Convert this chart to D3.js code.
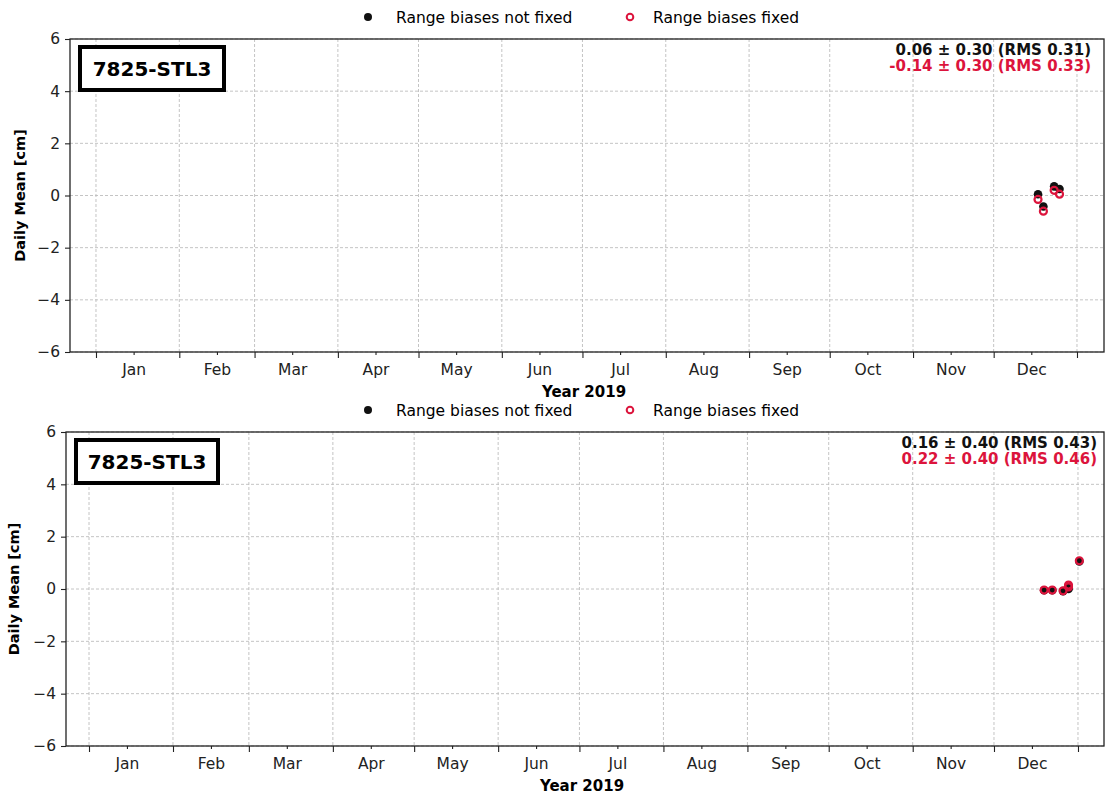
<!DOCTYPE html>
<html><head><meta charset="utf-8">
<script src="https://cdn.jsdelivr.net/npm/d3@7"></script>
<style>body{margin:0;background:#fff}svg{display:block;font-family:"DejaVu Sans",sans-serif}</style>
</head><body>
<svg id="chart" width="1105" height="796"></svg>
<script>
// ---------- data ----------
const stationName = "7825-STL3";
const seriesNames = ["Range biases not fixed", "Range biases fixed"];
const monthLabels = ["Jan","Feb","Mar","Apr","May","Jun","Jul","Aug","Sep","Oct","Nov","Dec"];
const yTicks = [-6,-4,-2,0,2,4,6];
const xLabel = "Year 2019";
const yLabel = "Daily Mean [cm]";

// panel 1
const p1Dates = ["2019-12-17","2019-12-19","2019-12-23","2019-12-25"];
const p1NotFixed = [0.05, -0.42, 0.35, 0.25];
const p1Fixed = [-0.15, -0.60, 0.20, 0.05];
const p1Stats = ["0.06 \u00b1 0.30 (RMS 0.31)", "-0.14 \u00b1 0.30 (RMS 0.33)"];

// panel 2
const p2Dates = ["2019-12-19","2019-12-22","2019-12-26","2019-12-28","2019-12-28","2020-01-01"];
const p2NotFixed = [-0.05, -0.05, -0.08, 0.05, 0.00, 1.05];
const p2Fixed = [-0.04, -0.04, -0.07, 0.15, 0.08, 1.08];
const p2Stats = ["0.16 \u00b1 0.40 (RMS 0.43)", "0.22 \u00b1 0.40 (RMS 0.46)"];

// ---------- drawing ----------
const svg = d3.select("#chart");
const RED = "#DC143C";
const FS = 15.5;

function drawPanel(cfg) {
  const {left, right, top, bottom, padBefore, padAfter, dates, notFixed, fixed, stats, legendY, statsX, box} = cfg;
  const y0 = Date.UTC(2019,0,1), y1 = Date.UTC(2020,0,1);
  const day = 864e5;
  const x = d3.scaleUtc().domain([new Date(y0 - padBefore*day), new Date(y1 + padAfter*day)]).range([left, right]);
  const y = d3.scaleLinear().domain([-6, 6]).range([bottom, top]);
  const g = svg.append("g");

  // grid
  const majors = d3.utcMonth.range(new Date(y0), new Date(y1 + day));
  const minors = majors.slice(0, 12).map(d => d3.utcDay.offset(d, 14));
  g.append("g").selectAll("line").data(majors).join("line")
    .attr("x1", d => x(d)).attr("x2", d => x(d)).attr("y1", top).attr("y2", bottom)
    .attr("stroke", "#bdbdbd").attr("stroke-width", 0.9).attr("stroke-dasharray", "3,2");
  g.append("g").selectAll("line").data(yTicks).join("line")
    .attr("x1", left).attr("x2", right).attr("y1", d => y(d)).attr("y2", d => y(d))
    .attr("stroke", "#bdbdbd").attr("stroke-width", 0.9).attr("stroke-dasharray", "3,2");

  // axes
  const xMajor = d3.axisBottom(x).tickValues(majors).tickSize(6).tickFormat("");
  const xMinor = d3.axisBottom(x).tickValues(minors).tickSize(3).tickPadding(9)
    .tickFormat((d, i) => monthLabels[i]);
  const yAx = d3.axisLeft(y).tickValues(yTicks).tickSize(5).tickPadding(5)
    .tickFormat(d => d < 0 ? "\u2212" + Math.abs(d) : d);
  const gxM = g.append("g").attr("transform", `translate(0,${bottom})`).call(xMajor);
  const gxm = g.append("g").attr("transform", `translate(0,${bottom})`).call(xMinor);
  const gy = g.append("g").attr("transform", `translate(${left},0)`).call(yAx);
  [gxM, gxm, gy].forEach(a => {
    a.select(".domain").remove();
    a.selectAll("line").attr("stroke", "#222").attr("stroke-width", 1.1);
    a.selectAll("text").attr("fill", "#222").style("font-size", FS + "px").style("font-family", "DejaVu Sans");
  });
  gxm.selectAll("text").attr("dy", "0.71em");

  // frame
  g.append("rect").attr("x", left).attr("y", top).attr("width", right - left).attr("height", bottom - top)
    .attr("fill", "none").attr("stroke", "#222").attr("stroke-width", 1.3);

  // points
  const parse = d3.utcParse("%Y-%m-%d");
  const pts = dates.map((d, i) => ({t: d3.utcHour.offset(parse(d), 12), a: notFixed[i], b: fixed[i]}));
  g.append("g").selectAll("circle").data(pts).join("circle")
    .attr("cx", d => x(d.t)).attr("cy", d => y(d.a)).attr("r", 4.3).attr("fill", "#111");
  g.append("g").selectAll("circle").data(pts).join("circle")
    .attr("cx", d => x(d.t)).attr("cy", d => y(d.b)).attr("r", 3.5)
    .attr("fill", "none").attr("stroke", RED).attr("stroke-width", 2.2);

  // station box
  g.append("rect").attr("x", box[0]).attr("y", box[1]).attr("width", box[2]).attr("height", box[3])
    .attr("fill", "#fff").attr("stroke", "#000").attr("stroke-width", 4);
  g.append("text").attr("x", box[0] + box[2] / 2).attr("y", box[1] + box[3] / 2).attr("dy", "0.36em")
    .attr("text-anchor", "middle").style("font-size", "20px").style("font-weight", "bold").text(stationName);

  // stats
  g.append("text").attr("x", statsX).attr("y", top + 15.5).attr("text-anchor", "end")
    .style("font-size", "15px").style("font-weight", "bold").attr("fill", "#111").text(stats[0]);
  g.append("text").attr("x", statsX).attr("y", top + 31.5).attr("text-anchor", "end")
    .style("font-size", "15px").style("font-weight", "bold").attr("fill", RED).text(stats[1]);

  // labels
  g.append("text").attr("x", (left + right) / 2 - 3).attr("y", bottom + 45).attr("text-anchor", "middle")
    .style("font-size", "15px").style("font-weight", "bold").text(xLabel);
  g.append("text").attr("transform", `translate(${cfg.ylabX},${(top + bottom) / 2}) rotate(-90)`)
    .attr("text-anchor", "middle").style("font-size", "14.5px").style("font-weight", "bold").text(yLabel);

  // legend
  const lg = g.append("g");
  lg.append("circle").attr("cx", 368).attr("cy", legendY).attr("r", 4).attr("fill", "#111");
  lg.append("text").attr("x", 396).attr("y", legendY).attr("dy", "0.36em").style("font-size", FS + "px").text(seriesNames[0]);
  lg.append("circle").attr("cx", 630).attr("cy", legendY).attr("r", 3.3).attr("fill", "#fff")
    .attr("stroke", RED).attr("stroke-width", 2);
  lg.append("text").attr("x", 653).attr("y", legendY).attr("dy", "0.36em").style("font-size", FS + "px").text(seriesNames[1]);
}

drawPanel({left: 70, right: 1104, top: 39, bottom: 352, padBefore: 9.67, padAfter: 10.05,
  dates: p1Dates, notFixed: p1NotFixed, fixed: p1Fixed, stats: p1Stats, legendY: 17, statsX: 1091,
  box: [80, 47, 144, 43], ylabX: 25});
drawPanel({left: 66, right: 1104, top: 432, bottom: 746, padBefore: 8.49, padAfter: 9.6,
  dates: p2Dates, notFixed: p2NotFixed, fixed: p2Fixed, stats: p2Stats, legendY: 410, statsX: 1097,
  box: [76, 440, 142, 43], ylabX: 19});
</script>
</body></html>
